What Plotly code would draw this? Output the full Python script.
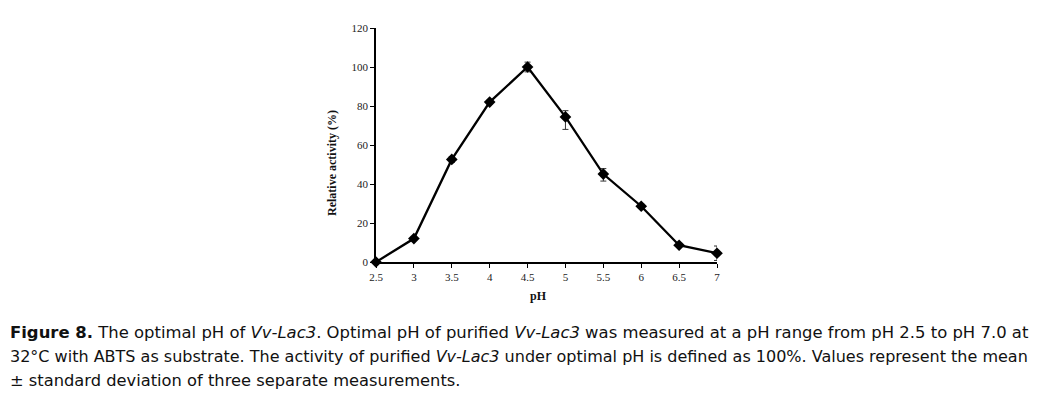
import plotly.graph_objects as go

ph = [2.5, 3, 3.5, 4, 4.5, 5, 5.5, 6, 6.5, 7]
activity = [0, 12, 52.6, 82, 100, 74.4, 45.1, 28.6, 8.6, 4.5]
err_plus = [0, 1, 1.5, 1, 2.5, 3.2, 2.8, 1.2, 1, 3.7]
err_minus = [0, 1, 1.5, 1, 2.5, 6.4, 3.6, 1.2, 1, 3.7]
y_ticks = [0, 20, 40, 60, 80, 100, 120]
x_ticks = [2.5, 3, 3.5, 4, 4.5, 5, 5.5, 6, 6.5, 7]
x_tick_text = ["2.5", "3", "3.5", "4", "4.5", "5", "5.5", "6", "6.5", "7"]

caption_lines = [
    "<b>Figure 8.</b> The optimal pH of <i>Vv-Lac3</i>. Optimal pH of purified <i>Vv-Lac3</i> was measured at a pH range from pH 2.5 to pH 7.0 at",
    "32°C with ABTS as substrate. The activity of purified <i>Vv-Lac3</i> under optimal pH is defined as 100%. Values represent the mean",
    "± standard deviation of three separate measurements.",
]
caption_sizes = [16.45, 16.0, 16.3]

serif = "Liberation Serif, Times New Roman, serif"
sans = "DejaVu Sans, Verdana, sans-serif"

OFF = 8  # page body margin
L, R_, T, B = 376 - OFF, 717 - OFF, 28 - OFF, 262 - OFF
W, H = 1041 - OFF, 395 - OFF
PW, PH = R_ - L, B - T


def px(xp):
    return (xp - OFF - L) / PW


def py(yp):
    return (B - (yp - OFF)) / PH


fig = go.Figure()
fig.add_trace(go.Scatter(
    x=ph, y=activity, mode="lines+markers",
    line=dict(color="black", width=2.3),
    marker=dict(symbol="diamond", size=9, color="black"),
    error_y=dict(type="data", symmetric=False, array=err_plus, arrayminus=err_minus,
                 color="#333", thickness=1, width=3),
    cliponaxis=False,
    showlegend=False,
))

fig.update_layout(
    width=W, height=H,
    margin=dict(l=L, r=W - R_, t=T, b=H - B),
    paper_bgcolor="white", plot_bgcolor="white",
    xaxis=dict(range=[2.5, 7], tickvals=x_ticks, ticktext=x_tick_text, automargin=False,
               showgrid=False, zeroline=False, showline=True, linecolor="black", linewidth=1.5,
               ticks="outside", ticklen=4, tickcolor="black", tickwidth=1,
               tickfont=dict(family=serif, size=11, color="#222")),
    yaxis=dict(range=[0, 120], tickvals=y_ticks, automargin=False,
               showgrid=False, zeroline=False, showline=True, linecolor="black", linewidth=1.5,
               ticks="outside", ticklen=4, tickcolor="black", tickwidth=1,
               tickfont=dict(family=serif, size=11, color="#222")),
)

fig.add_annotation(text="<b>Relative activity (%)</b>", xref="paper", yref="paper",
                   x=px(332), y=py(163), textangle=-90,
                   showarrow=False, font=dict(family=serif, size=12, color="#111"),
                   xanchor="center", yanchor="middle")
fig.add_annotation(text="<b>pH</b>", xref="paper", yref="paper",
                   x=px(538), y=py(296),
                   showarrow=False, font=dict(family=serif, size=12, color="#111"),
                   xanchor="center", yanchor="middle")

line_centers = [332, 356, 380]
for txt, yc, fs in zip(caption_lines, line_centers, caption_sizes):
    fig.add_annotation(text=txt, xref="paper", yref="paper",
                       x=px(OFF), y=py(yc),
                       showarrow=False, font=dict(family=sans, size=fs, color="#111"),
                       xanchor="left", yanchor="middle", align="left")

fig.write_html("out.html")
